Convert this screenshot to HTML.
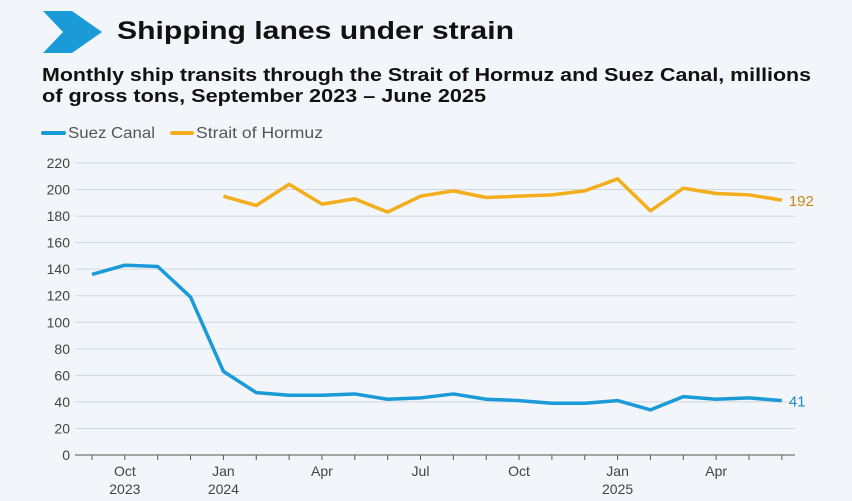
<!DOCTYPE html>
<html><head><meta charset="utf-8"><style>
body{margin:0;background:#f2f5f9;font-family:"Liberation Sans",sans-serif;}
svg{display:block}
</style></head><body>
<svg width="852" height="501">
<rect width="852" height="501" fill="#f2f5f9"/>
<polygon points="43,11 72,11 102,32 72,53 43,53 63,32" fill="#1a9ad6"/>
<text x="117" y="39" font-size="25" font-weight="bold" fill="#111" textLength="397" lengthAdjust="spacingAndGlyphs">Shipping lanes under strain</text>
<text font-size="18.5" font-weight="bold" fill="#111"><tspan x="42" y="81" textLength="769" lengthAdjust="spacingAndGlyphs">Monthly ship transits through the Strait of Hormuz and Suez Canal, millions</tspan><tspan x="42" y="102" textLength="444" lengthAdjust="spacingAndGlyphs">of gross tons, September 2023 – June 2025</tspan></text>
<g>
<line x1="43" y1="133" x2="64" y2="133" stroke="#1a9ad6" stroke-width="4" stroke-linecap="round"/>
<text x="68" y="138" font-size="16" fill="#555" textLength="87" lengthAdjust="spacingAndGlyphs">Suez Canal</text>
<line x1="172" y1="133" x2="192" y2="133" stroke="#f2ae1c" stroke-width="4" stroke-linecap="round"/>
<text x="196" y="138" font-size="16" fill="#555" textLength="127" lengthAdjust="spacingAndGlyphs">Strait of Hormuz</text>
</g>
<g id="grid"></g><g id="xaxis"></g><g id="series"></g>
</svg>
<script>
const months=["Sep","Oct","Nov","Dec","Jan","Feb","Mar","Apr","May","Jun","Jul","Aug","Sep","Oct","Nov","Dec","Jan","Feb","Mar","Apr","May","Jun"];
const suez=[136,143,142,119,63,47,45,45,46,42,43,46,42,41,39,39,41,34,44,42,43,41];
const hormuz=[null,null,null,null,195,188,204,189,193,183,195,199,194,195,196,199,208,184,201,197,196,192];
const yTicks=[0,20,40,60,80,100,120,140,160,180,200,220];
const xLabels=[[1,"Oct","2023"],[4,"Jan","2024"],[7,"Apr",""],[10,"Jul",""],[13,"Oct",""],[16,"Jan","2025"],[19,"Apr",""]];
const NS="http://www.w3.org/2000/svg";
const x=i=>92+i*32.85, y=v=>455-v*292/220;
function mk(t,a,p){const e=document.createElementNS(NS,t);for(const k in a)e.setAttribute(k,a[k]);p.appendChild(e);return e;}
const g=document.getElementById('grid');
yTicks.forEach(v=>{
 const l=mk('line',{x1:75,x2:795,y1:y(v),y2:y(v),stroke:v===0?'#555':'#cfd6de','stroke-width':1},g);
 
 
 const t=mk('text',{x:70,y:y(v)+5,'text-anchor':'end','font-size':14,fill:'#444'},g);t.textContent=v;
 
 
});
const xa=document.getElementById('xaxis');
months.forEach((m,i)=>{mk('line',{x1:x(i),x2:x(i),y1:455,y2:460,stroke:'#555'},xa);});
xLabels.forEach(([i,m,yr])=>{
 const t=mk('text',{x:x(i),y:476,'text-anchor':'middle','font-size':14,fill:'#444'},xa);t.textContent=m;
 
 
 if(yr){const t2=mk('text',{x:x(i),y:494,'text-anchor':'middle','font-size':14,fill:'#444'},xa);t2.textContent=yr;
 
 }
});
const s=document.getElementById('series');
function line(d,c,lc,name){
 const pts=d.map((v,i)=>v==null?null:x(i)+','+y(v)).filter(p=>p);
 const p=mk('polyline',{points:pts.join(' '),fill:'none',stroke:c,'stroke-width':3.5,'stroke-linejoin':'round'},s);
 
 
 const last=d[d.length-1];
 const t=mk('text',{x:x(d.length-1)+7,y:y(last)+6,'font-size':15,fill:lc},s);t.textContent=last;
 
 
}
line(hormuz,'#f2ae1c','#c48a17','hormuz');
line(suez,'#1a9ad6','#1a8cc6','suez');
</script>
</body></html>
